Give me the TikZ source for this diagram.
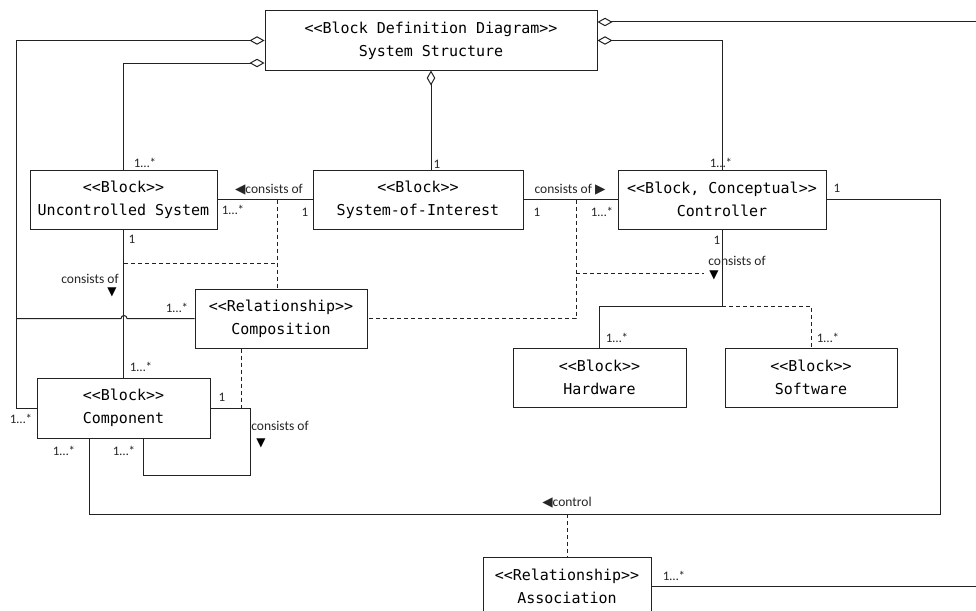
\documentclass[tikz,border=0pt]{standalone}
\usepackage{fontspec}
\newfontfamily\boxfont{DejaVu Sans Mono}
\newfontfamily\lblfont{Carlito}
\newfontfamily\symfont{DejaVu Sans}
\usetikzlibrary{arrows.meta}
\definecolor{linec}{HTML}{222222}
\newcommand{\trisym}[1]{{\symfont\fontsize{13.5}{14}\selectfont #1}}
\tikzset{
  blk/.style={draw=linec, line width=1pt, fill=white, align=center, inner sep=0pt,
    font=\boxfont\fontsize{15}{23}\selectfont, minimum height=59pt},
  lbl/.style={font=\lblfont\fontsize{13.5}{15}\selectfont, inner sep=0pt, text=black!85},
  mult/.style={font=\lblfont\fontsize{13}{14}\selectfont, inner sep=0pt, text=black!85},
  tri/.style={font=\symfont\fontsize{12}{13}\selectfont, inner sep=0pt},
  conn/.style={draw=linec, line width=1pt},
  dsh/.style={conn, dash pattern=on 4pt off 3pt},
  agg/.style={conn, {Diamond[open, length=15pt, width=8.5pt, line width=1pt]}-}
}
\begin{document}
\begin{tikzpicture}[x=1pt,y=-1pt]
\useasboundingbox[fill=white] (0,0) rectangle (976,610);

% blocks
\node[blk, minimum width=332pt] (ss) at (431,40.5) {<{}<Block Definition Diagram>{}>\\System Structure};
\node[blk, minimum width=187pt] (unc) at (123.5,199.5) {<{}<Block>{}>\\Uncontrolled System};
\node[blk, minimum width=210pt] (soi) at (418,199.5) {<{}<Block>{}>\\System-of-Interest};
\node[blk, minimum width=208pt] (ctl) at (722,199.5) {<{}<Block, Conceptual>{}>\\Controller};
\node[blk, minimum width=172pt] (comp) at (281,318.5) {<{}<Relationship>{}>\\Composition};
\node[blk, minimum width=173pt, minimum height=60pt] (cmpn) at (123.5,408) {<{}<Block>{}>\\Component};
\node[blk, minimum width=173pt] (hw) at (599.5,377.5) {<{}<Block>{}>\\Hardware};
\node[blk, minimum width=172pt] (sw) at (811,377.5) {<{}<Block>{}>\\Software};
\node[blk, minimum width=168pt] (assoc) at (567,586.5) {<{}<Relationship>{}>\\Association};

% free-end coordinates
\coordinate (re1) at (976,22);
\coordinate (re2) at (976,586.5);
\coordinate (c1) at (277,199.5);
\coordinate (c2) at (576,199.5);
\coordinate (cb) at (722,306);
\coordinate (ctrlmid) at (567,514);

% aggregation connectors from System Structure
\draw[agg] (ss.west) -- (16,40.5) -- (16,408) -- (cmpn.west);
\draw[agg] ([yshift=-22.5pt]ss.west) -| (unc.north);
\draw[agg] (ss.south) -- (ss.south |- soi.north);
\draw[agg] ([yshift=18.5pt]ss.east) -- (re1);
\draw[agg] (ss.east) -| (ctl.north);

% associations between blocks
\draw[conn] (unc.east) -- (soi.west);
\draw[conn] (soi.east) -- (ctl.west);
\draw[conn] (unc.south) -- (cmpn.north);
\draw[conn] (16,318.5) -- (121,318.5) arc (180:360:3) -- (comp.west);
\draw[conn] (cmpn.east) -- (250,408) -- (250,475) -- (143,475) -- ([xshift=19.5pt]cmpn.south);
\draw[conn] (ctl.east) -| (940,514) -| ([xshift=-34.5pt]cmpn.south);
\draw[conn] (ctl.south) -- (cb) -| (hw.north);
\draw[dsh] (cb) -| (sw.north);
\draw[conn] (assoc.east) -- (re2);

% dashed relationship links
\draw[dsh] (c1) -- (c1 |- comp.north);
\draw[dsh] (124,263) -- (277,263);
\draw[dsh] (c2) -- (576,318.5) -- (comp.east);
\draw[dsh] (576,273) -- (704,273);
\draw[dsh] ([xshift=-40pt]comp.south) -- (241,408);
\draw[dsh] (ctrlmid) -- (assoc.north);

% labels
\node[mult] (m1) at (145,163) {1…*};
\node[mult] (m2) at (437,164) {1};
\node[mult] (m3) at (721,163) {1…*};
\node[mult] (m4) at (837,188) {1};
\node[lbl] (l1) at (269,189.5) {\trisym{◀}consists of};
\node[mult] (m5) at (233,210) {1…*};
\node[mult] (m6) at (305,212) {1};
\node[lbl] (l2) at (570,189.5) {consists of \trisym{▶}};
\node[mult] (m7) at (537,212) {1};
\node[mult] (m8) at (602,212) {1…*};
\node[mult] (m9) at (717,240) {1};
\node[lbl] (l3) at (737,261) {consists of};
\node[tri] (t3) at (714,275) {▼};
\node[mult] (m10) at (617,338) {1…*};
\node[mult] (m11) at (828,338) {1…*};
\node[mult] (m12) at (132,239) {1};
\node[lbl] (l4) at (90,279) {consists of};
\node[tri] (t4) at (112,292) {▼};
\node[mult] (m13) at (177,308) {1…*};
\node[mult] (m14) at (141,367) {1…*};
\node[mult] (m15) at (21,419) {1…*};
\node[mult] (m16) at (222,397) {1};
\node[lbl] (l5) at (280,426) {consists of};
\node[tri] (t5) at (261,443) {▼};
\node[mult] (m17) at (64,451) {1…*};
\node[mult] (m18) at (124,451) {1…*};
\node[lbl] (l6) at (567,503) {\trisym{◀}control};
\node[mult] (m19) at (674,576) {1…*};
\end{tikzpicture}
\end{document}
